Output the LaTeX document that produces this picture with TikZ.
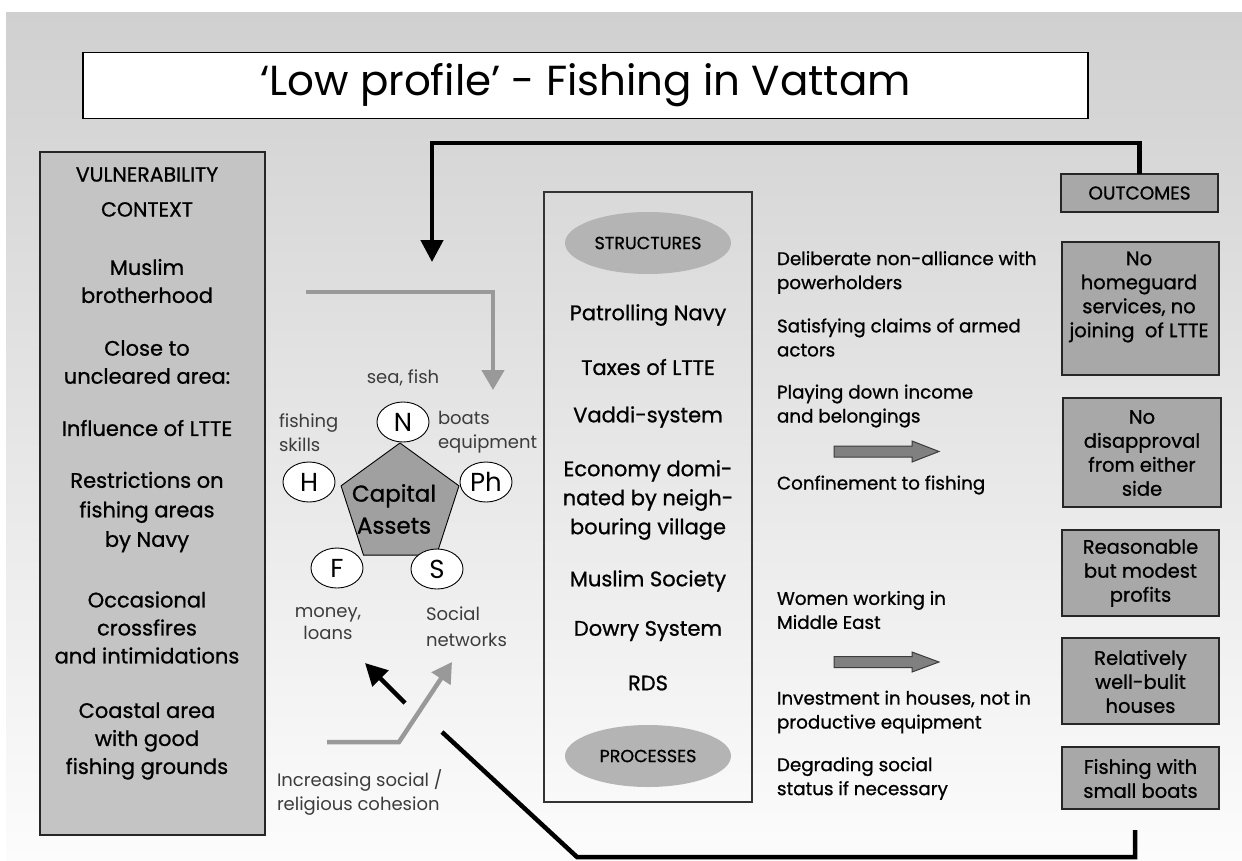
\documentclass[tikz,border=0pt]{standalone}
\usepackage{fontspec}
\setmainfont{Poppins}
\newfontfamily\medf[FakeBold=0.9]{Poppins}
\usetikzlibrary{arrows.meta,shapes.geometric}
\definecolor{bgtop}{RGB}{208,208,208}
\definecolor{bgmid}{RGB}{226,226,226}
\definecolor{bgbot}{RGB}{252,252,252}
\definecolor{vulnfill}{RGB}{196,196,196}
\definecolor{outfill}{RGB}{168,168,168}
\definecolor{ellfill}{RGB}{180,180,180}
\definecolor{pentfill}{RGB}{160,160,160}
\definecolor{arrowgray}{RGB}{153,153,153}
\definecolor{labelgray}{RGB}{60,60,60}
\definecolor{blockfill}{RGB}{128,128,128}
\definecolor{blockdraw}{RGB}{60,60,60}
\begin{document}
\begin{tikzpicture}[x=1pt,y=-1pt,
  every node/.style={inner sep=0pt, outer sep=0pt},
  titlebox/.style={draw=black, line width=1.3pt, fill=white, minimum width=1005pt, minimum height=66pt, font=\fontsize{42}{50}\selectfont},
  vbox/.style={draw=black!85, line width=1.3pt, fill=vulnfill, minimum width=225pt, minimum height=683pt},
  sbox/.style={draw=black!80, line width=1.3pt, minimum width=208pt, minimum height=610pt},
  oval/.style={ellipse, fill=ellfill, minimum width=166pt, minimum height=62pt, font=\medf\fontsize{17.5}{20}\selectfont},
  obox/.style={draw=black!85, line width=1.3pt, fill=outfill, minimum width=157pt},
  otext/.style={align=center, font=\medf\fontsize{19.5}{24}\selectfont},
  vtext/.style={align=center, font=\medf\fontsize{21}{28}\selectfont},
  stext/.style={align=center, font=\medf\fontsize{21}{29}\selectfont},
  rtext/.style={align=left, anchor=west, font=\medf\fontsize{18.3}{24}\selectfont},
  glabel/.style={text=labelgray, font=\fontsize{18}{24}\selectfont},
  capell/.style={ellipse, draw=black, line width=0.9pt, fill=white, minimum width=52pt, minimum height=40pt, font=\fontsize{26}{28}\selectfont},
  pent/.style={regular polygon, regular polygon sides=5, minimum size=124pt, draw=black, line width=0.9pt, fill=pentfill},
  bigarrow/.style={line width=4.5pt, -{Triangle[width=22pt,length=22pt]}},
  grayarrow/.style={draw=arrowgray, line width=4.5pt, -{Triangle[width=22pt,length=20pt]}},
  loopline/.style={line width=4.5pt},
  blockarrow/.style={fill=blockfill, draw=blockdraw, line width=1pt}
]
\useasboundingbox (0,0) rectangle (1242,860);
\fill[white] (0,0) rectangle (1242,860);
\shade[top color=bgtop, middle color=bgmid, bottom color=bgbot] (6,12) rectangle (1242,860);

% title
\node[titlebox] (title) at (585.5,85.5) {`Low profile' - Fishing in Vattam};

% vulnerability context
\node[vbox] (vuln) at (152.5,493.5) {};
\node[vtext, font=\medf\fontsize{20.5}{35}\selectfont] (v0) at (147,192) {VULNERABILITY\\CONTEXT};
\node[vtext] (v1) at (147,281) {Muslim\\brotherhood};
\node[vtext] (v2) at (147,362) {Close to\\uncleared area:};
\node[vtext] (v3) at (147,428) {Influence of LTTE};
\node[vtext, font=\medf\fontsize{21}{29.5}\selectfont] (v4) at (147,512) {Restrictions on\\fishing areas\\by Navy};
\node[vtext] (v5) at (147,627.5) {Occasional\\crossfires\\and intimidations};
\node[vtext] (v6) at (147,741) {Coastal area\\with good\\fishing grounds};

% structures and processes
\node[sbox] (struct) at (648,497) {};
\node[oval] (structures) at (648,243) {STRUCTURES};
\node[oval] (processes) at (648,756) {PROCESSES};
\node[stext] (s1) at (648,315) {Patrolling Navy};
\node[stext] (s2) at (648,367) {Taxes of LTTE};
\node[stext] (s3) at (648,417) {Vaddi-system};
\node[stext] (s4) at (648,500) {Economy domi-\\nated by neigh-\\bouring village};
\node[stext] (s5) at (648,581) {Muslim Society};
\node[stext] (s6) at (648,631) {Dowry System};
\node[stext] (s7) at (648,683) {RDS};

% capital assets
\node[pent] (assets) at (400,505) {};
\node[align=center, font=\medf\fontsize{23}{32}\selectfont] (assetsT) at (394,509) {Capital\\Assets};
\node[capell] (N) at (403,422) {N};
\node[capell] (H) at (309,482) {H};
\node[capell] (Ph) at (486,482) {Ph};
\node[capell] (F) at (337,568) {F};
\node[capell] (S) at (437,569) {S};
\node[glabel] (lN) at (403,378) {sea, fish};
\node[glabel, align=left, anchor=west] (lH) at (279,432.5) {fishing\\skills};
\node[glabel, align=left, anchor=west] (lPh) at (438,432.5) {boats\\equipment};
\node[glabel, align=center, font=\fontsize{18}{22}\selectfont] (lF) at (328,624) {money,\\loans};
\node[glabel, align=left, anchor=west, font=\fontsize{18}{26}\selectfont] (lS) at (426,626.5) {Social\\networks};
\node[glabel, align=left, anchor=west] (lC) at (277,792) {Increasing social /\\religious cohesion};

% outcomes
\node[obox, minimum height=38pt, font=\medf\fontsize{18.5}{20}\selectfont] (outcomes) at (1139.5,193) {OUTCOMES};
\node[obox, minimum height=133pt] (o1) at (1140.5,308.5) {};
\node[otext] (o1t) at (1139,297) {No\\homeguard\\services, no\\joining\ \ of LTTE};
\node[obox, minimum width=158pt, minimum height=109pt] (o2) at (1142,452.5) {};
\node[otext] (o2t) at (1142,453) {No\\disapproval\\from either\\side};
\node[obox, minimum height=86pt] (o3) at (1140.5,573) {};
\node[otext] (o3t) at (1140.5,573) {Reasonable\\but modest\\profits};
\node[obox, minimum height=86pt] (o4) at (1140.5,681) {};
\node[otext] (o4t) at (1140.5,681.5) {Relatively\\well-bulit\\houses};
\node[obox, minimum height=62pt] (o5) at (1140.5,778) {};
\node[otext] (o5t) at (1140.5,778.5) {Fishing with\\small boats};

% strategies
\node[rtext] (r1) at (777,272.5) {Deliberate non-alliance with\\powerholders};
\node[rtext] (r2) at (777,337.5) {Satisfying claims of armed\\actors};
\node[rtext] (r3) at (777,406) {Playing down income\\and belongings};
\node[rtext] (r4) at (777,485) {Confinement to fishing};
\node[rtext] (r5) at (777,610) {Women working in\\Middle East};
\node[rtext] (r6) at (777,712) {Investment in houses, not in\\productive equipment};
\node[rtext] (r7) at (777,778.5) {Degrading social\\status if necessary};

% block arrows
\draw[blockarrow] (834,446) -- (912,446) -- (912,441) -- (939,451.5) -- (912,462) -- (912,457) -- (834,457) -- cycle;
\draw[blockarrow] (834,656.5) -- (912,656.5) -- (912,652) -- (939,662) -- (912,672) -- (912,667.5) -- (834,667.5) -- cycle;

% connectors
\coordinate (capIn) at (432,262);
\draw[bigarrow] (outcomes.north) -- ++(0,-31) -| (capIn);

\coordinate (gIn) at (306,292);
\coordinate (gOut) at (493,390);
\draw[grayarrow] (gIn) -| (gOut);

\coordinate (sbA) at (405,703);
\coordinate (sbB) at (365,663);
\draw[bigarrow] (sbA) -- (sbB);

\coordinate (gcA) at (327,742);
\coordinate (gcB) at (399,742);
\coordinate (gcC) at (452,662);
\draw[grayarrow] (gcA) -- (gcB) -- (gcC);

\coordinate (loopStart) at (1135,830);
\coordinate (loopCorner) at (577,857);
\coordinate (loopEnd) at (442,732);
\draw[loopline] (loopStart) |- (loopCorner) -- (loopEnd);
\end{tikzpicture}
\end{document}
